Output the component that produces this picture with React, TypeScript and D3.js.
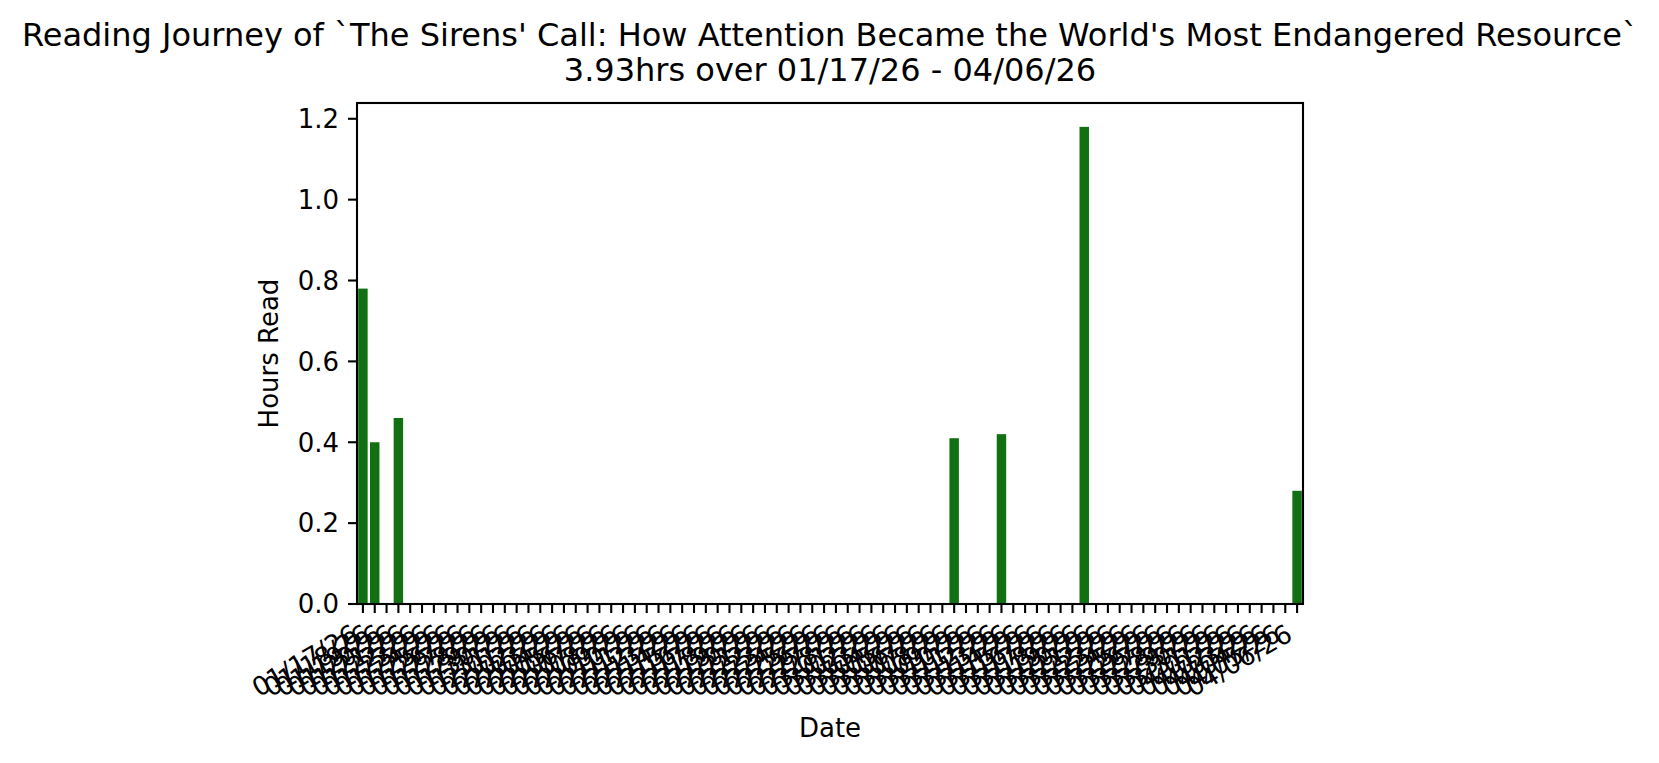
import React, { useEffect, useRef } from 'react';
import * as d3 from 'd3';

const titleLines = [
  "Reading Journey of `The Sirens' Call: How Attention Became the World's Most Endangered Resource`",
  '3.93hrs over 01/17/26 - 04/06/26',
];
const startDate = '01/17/26';
const endDate = '04/06/26';
const readDates = ['01/17/26', '01/18/26', '01/20/26', '03/08/26', '03/12/26', '03/19/26', '04/06/26'];
const readHours = [0.78, 0.4, 0.46, 0.41, 0.42, 1.18, 0.28];
const yTicks = [0, 0.2, 0.4, 0.6, 0.8, 1.0, 1.2];

const W = 1659;
const H = 763;
const font = 'DejaVu Sans, sans-serif';

const Chart: React.FC = () => {
  const ref = useRef<SVGSVGElement>(null);

  useEffect(() => {
    document.body.style.margin = '0';
    const svg = d3.select(ref.current);
    svg.selectAll('*').remove();

    const fmt = d3.timeFormat('%m/%d/%y');
    const parse = d3.timeParse('%m/%d/%y');
    const days = d3.timeDay.range(parse(startDate)!, d3.timeDay.offset(parse(endDate)!, 1));
    const labels = days.map((d) => fmt(d));
    const lookup = new Map(readDates.map((d, i) => [d, readHours[i]]));
    const data = labels.map((d) => ({ label: d, value: lookup.get(d) ?? 0 }));

    const left = 357, right = 1303, top = 103, bottom = 604;

    const x = d3.scaleBand().domain(labels).range([left, right]).paddingInner(0.2).paddingOuter(0.1);
    const y = d3.scaleLinear().domain([0, 1.18 * 1.05]).range([bottom, top]);

    svg.append('rect').attr('width', W).attr('height', H).attr('fill', '#fff');

    svg.selectAll('.bar')
      .data(data)
      .enter()
      .append('rect')
      .attr('x', (d) => x(d.label) ?? 0)
      .attr('y', (d) => y(d.value))
      .attr('width', x.bandwidth())
      .attr('height', (d) => bottom - y(d.value))
      .attr('fill', '#117011');

    // frame
    svg.append('rect')
      .attr('x', left).attr('y', top)
      .attr('width', right - left).attr('height', bottom - top)
      .attr('fill', 'none').attr('stroke', '#000').attr('stroke-width', 2.1);

    const tickLen = 9;
    const pad = 9;
    const fs = 26;

    // y axis
    const yAxis = svg.append('g');
    yTicks.forEach((t) => {
      yAxis.append('line')
        .attr('x1', left - tickLen).attr('x2', left)
        .attr('y1', y(t)).attr('y2', y(t))
        .attr('stroke', '#000').attr('stroke-width', 2.1);
      yAxis.append('text')
        .attr('x', left - tickLen - pad).attr('y', y(t))
        .attr('dy', '0.36em')
        .attr('text-anchor', 'end')
        .attr('font-family', font).attr('font-size', fs)
        .text(t.toFixed(1));
    });

    // x axis, labels rotated 30deg and right-aligned on the tick
    const xAxis = svg.append('g');
    const asc = fs * 0.76;
    const desc = fs * 0.24;
    labels.forEach((l) => {
      const cx = (x(l) ?? 0) + x.bandwidth() / 2;
      xAxis.append('line')
        .attr('x1', cx).attr('x2', cx)
        .attr('y1', bottom).attr('y2', bottom + tickLen)
        .attr('stroke', '#000').attr('stroke-width', 2.1);
      const ax = cx - desc * 0.5;
      const ay = bottom + tickLen + pad + asc * Math.cos(Math.PI / 6);
      xAxis.append('text')
        .attr('transform', `translate(${ax},${ay}) rotate(-30)`)
        .attr('text-anchor', 'end')
        .attr('font-family', font).attr('font-size', fs)
        .text(l);
    });

    svg.append('text')
      .attr('x', (left + right) / 2).attr('y', 737)
      .attr('text-anchor', 'middle')
      .attr('font-family', font).attr('font-size', fs)
      .text('Date');

    svg.append('text')
      .attr('transform', `translate(278,${(top + bottom) / 2}) rotate(-90)`)
      .attr('text-anchor', 'middle')
      .attr('font-family', font).attr('font-size', fs)
      .text('Hours Read');

    titleLines.forEach((t, i) => {
      svg.append('text')
        .attr('x', (left + right) / 2).attr('y', 46 + i * 35)
        .attr('text-anchor', 'middle')
        .attr('font-family', font).attr('font-size', 32)
        .text(t);
    });
  }, []);

  return <svg ref={ref} width={W} height={H} style={{ display: 'block' }} />;
};

export default function App() {
  return <Chart />;
}
